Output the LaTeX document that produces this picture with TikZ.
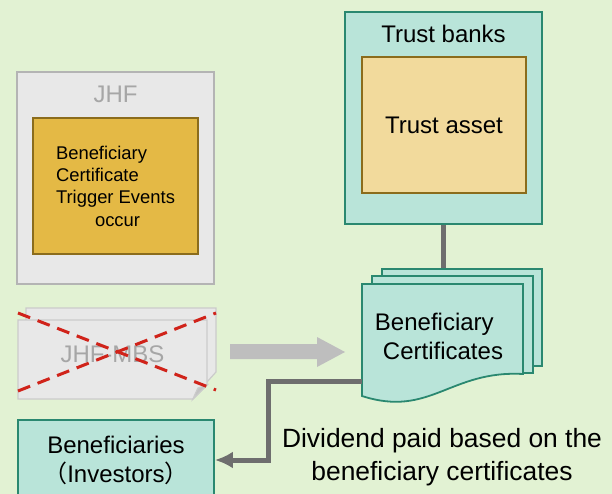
\documentclass[tikz,border=0pt]{standalone}
\usepackage{fontspec}
\setmainfont{Liberation Sans}
\newfontfamily\cjk{Noto Sans CJK JP}
\usetikzlibrary{arrows.meta}
\definecolor{bg}{HTML}{E2F2D3}
\definecolor{teal1}{HTML}{B9E4D9}
\definecolor{teal2}{HTML}{2A8870}
\definecolor{gold1}{HTML}{E4B945}
\definecolor{gold2}{HTML}{8B6C1C}
\definecolor{tan1}{HTML}{F2DA9C}
\definecolor{gray1}{HTML}{E8E8E8}
\definecolor{gray2}{HTML}{B4B4B4}
\definecolor{gray3}{HTML}{A6A6A6}
\definecolor{gray4}{HTML}{BEBEBE}
\definecolor{line1}{HTML}{6E6E6E}
\definecolor{red1}{HTML}{D0231A}

\begin{document}
\begin{tikzpicture}[x=1pt,y=-1pt]
	\tikzstyle{every node}=[inner sep=0pt, font=\fontsize{24}{29}\selectfont]
	\tikzstyle{box}=[rectangle, draw, line width=1.8pt]
	\tikzstyle{tealbox}=[box, draw=teal2, fill=teal1]
	\tikzstyle{sheet}=[fill=gray1, draw=gray2!70, line width=1.2pt]
	\tikzstyle{conn}=[draw=line1, line width=5pt]
	\tikzstyle{cross}=[draw=red1, line width=3pt, dash pattern=on 13pt off 8pt]
	\fill[bg] (0,0) rectangle (612,494);
	\useasboundingbox (0,0) rectangle (612,494);
	% trust banks
	\draw (443.5,118) node (tb) [tealbox, minimum width=197pt, minimum height=212pt] {};
	\draw (443.5,43) node (tbl) [anchor=base] {Trust banks};
	\draw (444,125) node (ta) [box, draw=gold2, fill=tan1, minimum width=164pt, minimum height=136pt] {Trust asset};
	% JHF
	\draw (115.5,178) node (jhf) [box, draw=gray2, fill=gray1, line width=1.5pt, minimum width=197pt, minimum height=212pt] {};
	\draw (115.5,103) node (jhfl) [anchor=base, text=gray3] {JHF};
	\draw (115.5,186) node (ev) [box, draw=gold2, fill=gold1, minimum width=165pt, minimum height=136pt, align=left, font=\fontsize{18.4}{22.3}\selectfont] {Beneficiary\\Certificate\\Trigger Events\\\hspace*{39pt}occur};
	% JHF-MBS
	\filldraw[sheet] (26,308) -- (216,308) -- (216,372) -- (207,382) -- (26,382) -- cycle;
	\filldraw[sheet] (18,320) -- (207,320) -- (207,385) -- (193,399) -- (18,399) -- cycle;
	\filldraw[sheet, fill=gray2!80] (193,399) .. controls (196,392) .. (198,388) -- (207,385) -- cycle;
	\draw (112.5,362) node (mbs) [anchor=base, text=gray3] {JHF-MBS};
	\draw[cross] (18,313) -- (216,390);
	\draw[cross] (18,391) -- (216,313);
	\fill[gray4] (230,344) -- (317,344) -- (317,337) -- (345,352) -- (317,367) -- (317,359) -- (230,359) -- cycle;
	% certificates
	\draw (462,317.5) node (bc) [tealbox, line width=1.5pt, minimum width=160pt, minimum height=97pt] {};
	\draw[conn] (tb.south) -- (tb.south |- bc.north);
	\draw (452.5,324.5) node (mc) [tealbox, line width=1.5pt, minimum width=161pt, minimum height=97pt] {};
	\filldraw[fill=teal1, draw=teal2, line width=1.8pt] (362,284) -- (523,284) -- (523,374) .. controls (450,370) and (430,418) .. (362,396) -- cycle;
	\draw (439,336) node (cert) [align=left] {Beneficiary\\\hspace*{8pt}Certificates};
	\coordinate (c1) at (362,381);
	% investors
	\draw (116,460) node (ben) [tealbox, minimum width=196pt, minimum height=80pt, align=center] {Beneficiaries\\{\cjk （}Investors{\cjk ）}};
	\draw[conn, -{Latex[length=18pt, width=17pt]}] (c1) -- ++(-94,0) |- (ben.east);
	\draw (442,457) node (div) [align=center, font=\fontsize{26.4}{33}\selectfont] {Dividend paid based on the\\beneficiary certificates};
\end{tikzpicture}
\end{document}
